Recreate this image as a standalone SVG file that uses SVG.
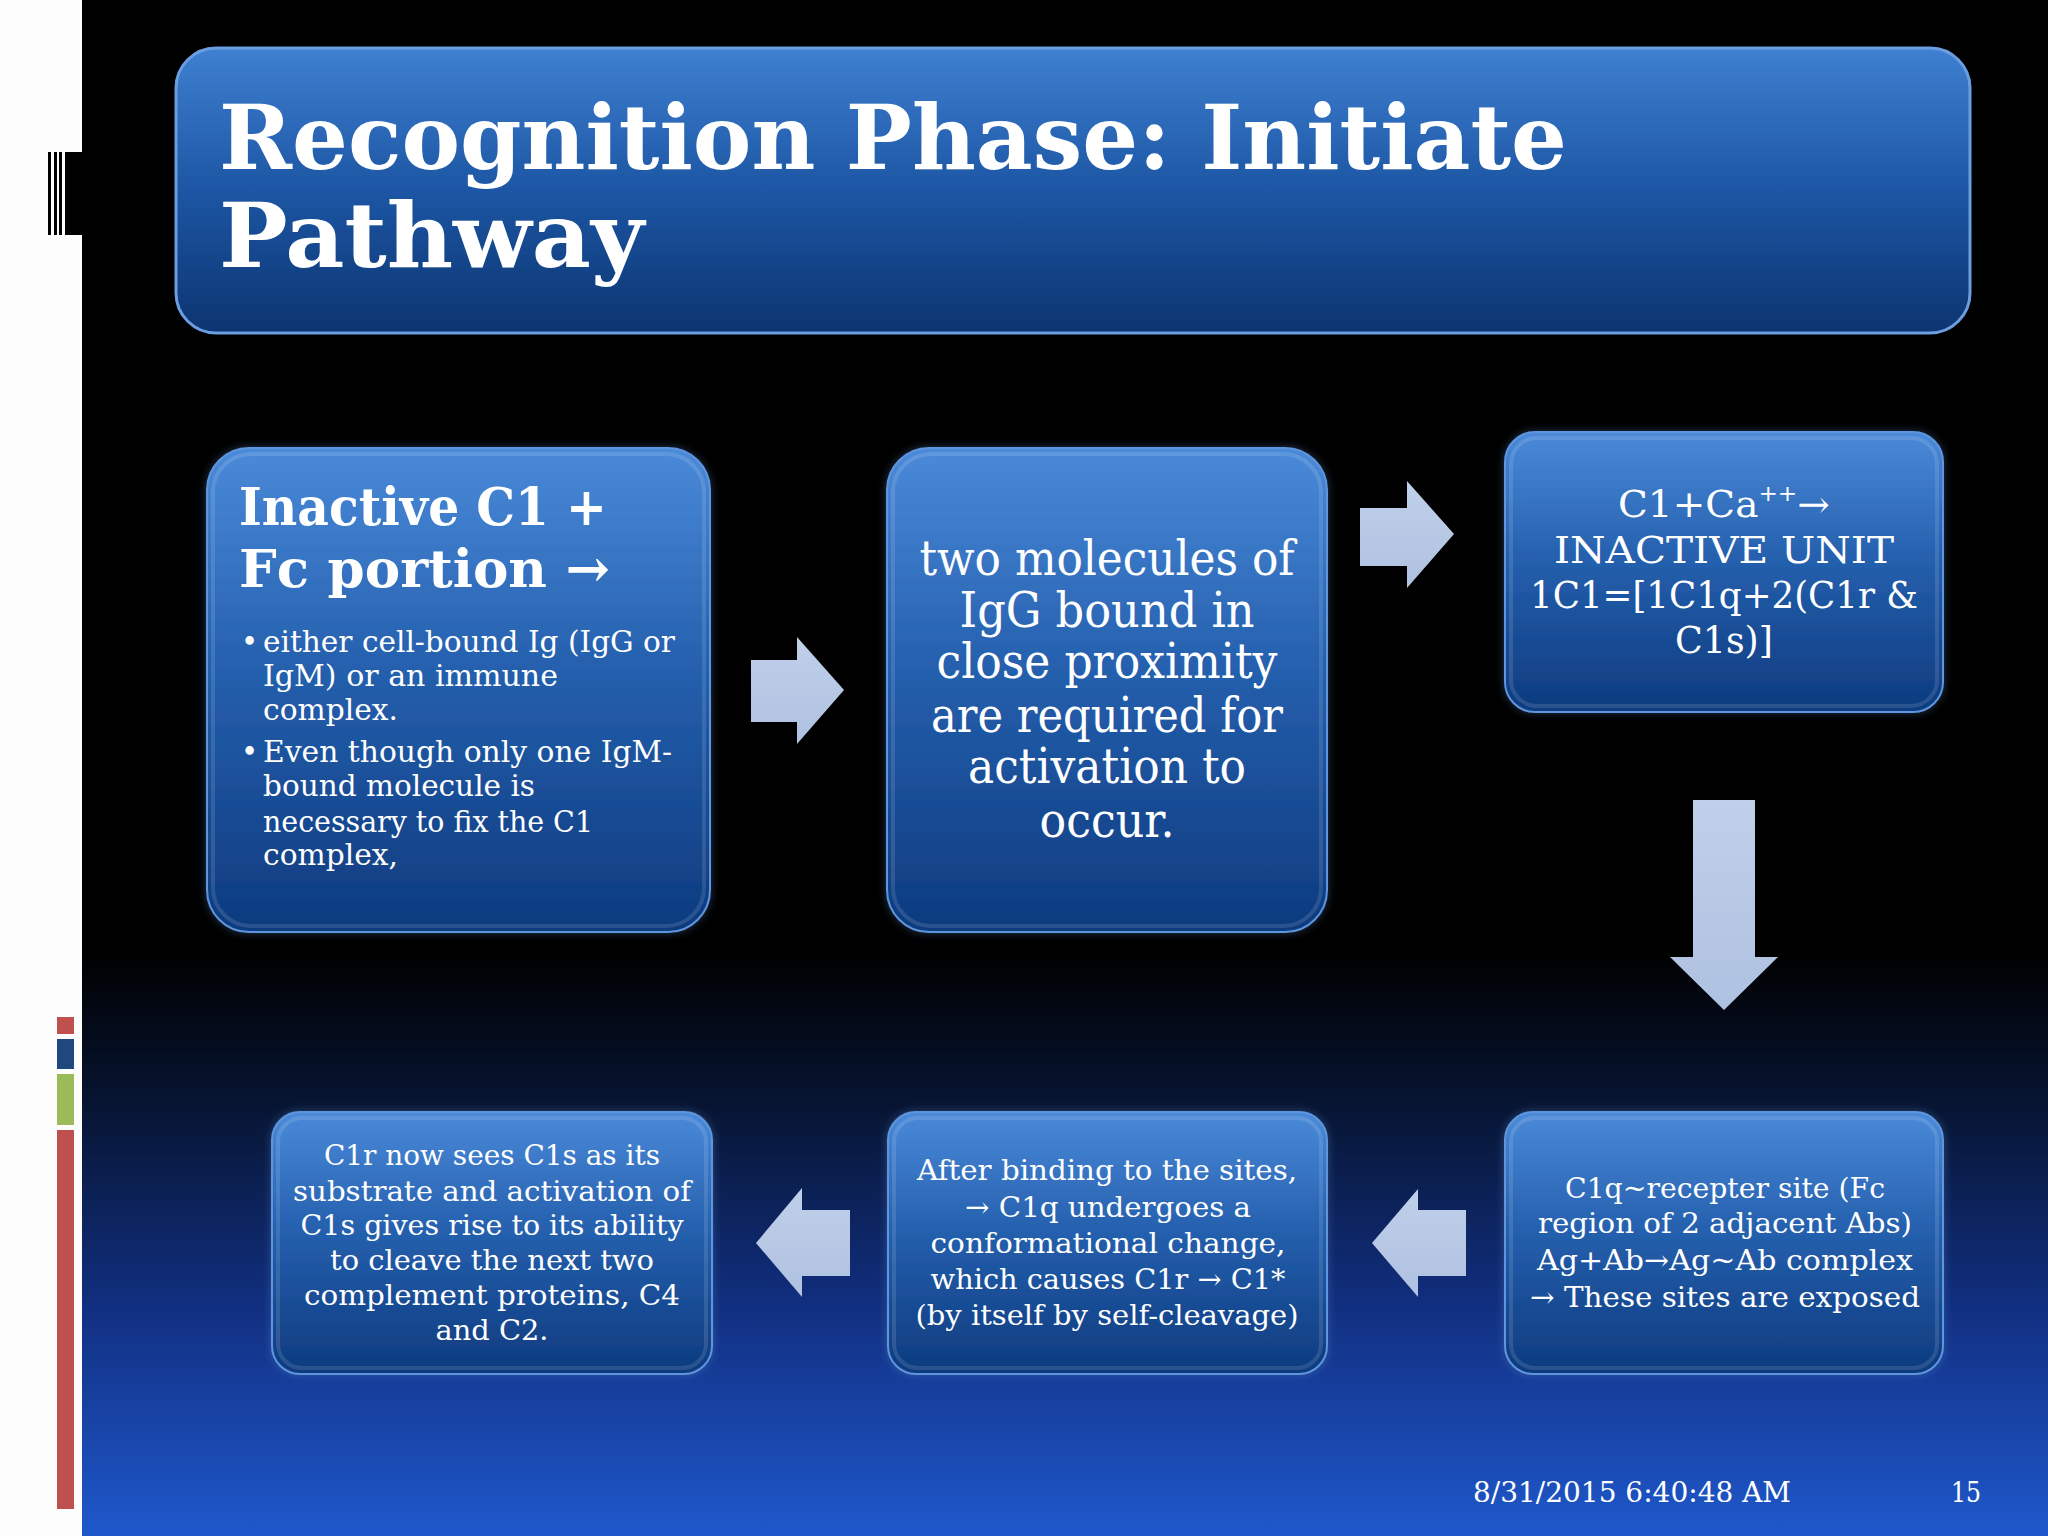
<svg xmlns="http://www.w3.org/2000/svg" width="2048" height="1536" viewBox="0 0 2048 1536">
  <defs>
    <linearGradient id="bg" x1="0" y1="0" x2="0" y2="1536" gradientUnits="userSpaceOnUse">
      <stop offset="0" stop-color="#000000"/>
      <stop offset="0.62" stop-color="#000000"/>
      <stop offset="0.72" stop-color="#071533"/>
      <stop offset="0.85" stop-color="#112f80"/>
      <stop offset="1" stop-color="#1f58cc"/>
    </linearGradient>
    <linearGradient id="boxg" x1="0" y1="0" x2="0" y2="1">
      <stop offset="0" stop-color="#4a8ad9"/>
      <stop offset="0.45" stop-color="#2560ae"/>
      <stop offset="1" stop-color="#0d3a7e"/>
    </linearGradient>
    <linearGradient id="titleg" x1="0" y1="0" x2="0" y2="1">
      <stop offset="0" stop-color="#3f80d0"/>
      <stop offset="0.5" stop-color="#1c56a4"/>
      <stop offset="1" stop-color="#0c3470"/>
    </linearGradient>
    <linearGradient id="arrg" x1="0" y1="0" x2="0" y2="1">
      <stop offset="0" stop-color="#c0d0ea"/>
      <stop offset="1" stop-color="#afc1e1"/>
    </linearGradient>
    <filter id="glow" x="-10%" y="-10%" width="120%" height="120%">
      <feGaussianBlur in="SourceAlpha" stdDeviation="4" result="b"/>
      <feFlood flood-color="#5a8ad0" flood-opacity="0.4"/>
      <feComposite in2="b" operator="in" result="g"/>
      <feMerge><feMergeNode in="g"/><feMergeNode in="SourceGraphic"/></feMerge>
    </filter>
  </defs>
  <style>
    .box { fill: url(#boxg); stroke: #5f95dc; stroke-width: 2; filter: url(#glow); }
    .rim { fill: none; stroke: #ffffff; stroke-opacity: 0.12; stroke-width: 4; }
    .txt { font-family: "DejaVu Serif", "Liberation Serif", serif; fill: #ffffff; }
    .c { text-anchor: middle; }
    .arr { fill: url(#arrg); }
  </style>

  <!-- background -->
  <rect x="0" y="0" width="2048" height="1536" fill="url(#bg)"/>
  <rect x="0" y="0" width="82" height="1536" fill="#fdfdfd"/>
  <g id="barcode" fill="#000000">
    <rect x="48" y="152" width="3" height="83"/>
    <rect x="54" y="152" width="3" height="83"/>
    <rect x="59" y="152" width="3" height="83"/>
    <rect x="65" y="152" width="17" height="83"/>
  </g>
  <g id="sidebars">
    <rect x="57" y="1017" width="17" height="17" fill="#c0504d"/>
    <rect x="57" y="1039" width="17" height="30" fill="#1f497d"/>
    <rect x="57" y="1074" width="17" height="51" fill="#9bbb59"/>
    <rect x="57" y="1130" width="17" height="379" fill="#c0504d"/>
  </g>

  <!-- title -->
  <g id="title">
    <rect x="176" y="48" width="1794" height="285" rx="40" fill="url(#titleg)" stroke="#6a9ee0" stroke-width="3"/>
    <text class="txt" x="219" y="169" font-size="89" font-weight="bold" textLength="1348" lengthAdjust="spacingAndGlyphs">Recognition Phase: Initiate</text>
    <text class="txt" x="219" y="267" font-size="89" font-weight="bold" textLength="425" lengthAdjust="spacingAndGlyphs">Pathway</text>
  </g>

  <!-- connectors -->
  <g id="connectors">
    <polygon class="arr" points="751,660 797,660 797,637 844,690 797,744 797,722 751,722"/>
    <polygon class="arr" points="1360,508 1407,508 1407,481 1454,534 1407,588 1407,566 1360,566"/>
    <polygon class="arr" points="1693,800 1755,800 1755,957 1778,957 1724,1010 1670,957 1693,957"/>
    <polygon class="arr" points="1466,1210 1418,1210 1418,1189 1372,1243 1418,1297 1418,1276 1466,1276"/>
    <polygon class="arr" points="850,1210 802,1210 802,1188 756,1243 802,1297 802,1276 850,1276"/>
  </g>

  <!-- node 1 -->
  <g id="node-inactive-c1">
    <rect class="box" x="207" y="448" width="503" height="484" rx="42"/>
    <rect class="rim" x="213" y="454" width="491" height="472" rx="38"/>
    <text class="txt" x="239" y="525" font-size="53" font-weight="bold" textLength="368" lengthAdjust="spacingAndGlyphs">Inactive C1 +</text>
    <text class="txt" x="239" y="587" font-size="53" font-weight="bold" textLength="371" lengthAdjust="spacingAndGlyphs">Fc portion →</text>
    <text class="txt" x="241" y="652" font-size="29">•</text>
    <text class="txt" x="263" y="652" font-size="29" textLength="412" lengthAdjust="spacingAndGlyphs">either cell-bound Ig (IgG or</text>
    <text class="txt" x="263" y="686" font-size="29" textLength="295" lengthAdjust="spacingAndGlyphs">IgM) or an immune</text>
    <text class="txt" x="263" y="720" font-size="29" textLength="135" lengthAdjust="spacingAndGlyphs">complex.</text>
    <text class="txt" x="241" y="762" font-size="29">•</text>
    <text class="txt" x="263" y="762" font-size="29" textLength="409" lengthAdjust="spacingAndGlyphs">Even though only one IgM-</text>
    <text class="txt" x="263" y="796" font-size="29" textLength="272" lengthAdjust="spacingAndGlyphs">bound molecule is</text>
    <text class="txt" x="263" y="832" font-size="29" textLength="330" lengthAdjust="spacingAndGlyphs">necessary to fix the C1</text>
    <text class="txt" x="263" y="865" font-size="29" textLength="135" lengthAdjust="spacingAndGlyphs">complex,</text>
  </g>

  <!-- node 2 -->
  <g id="node-two-molecules">
    <rect class="box" x="887" y="448" width="440" height="484" rx="42"/>
    <rect class="rim" x="893" y="454" width="428" height="472" rx="38"/>
    <text class="txt c" x="1107" y="575" font-size="48" textLength="375" lengthAdjust="spacingAndGlyphs">two molecules of</text>
    <text class="txt c" x="1107" y="627" font-size="48" textLength="295" lengthAdjust="spacingAndGlyphs">IgG bound in</text>
    <text class="txt c" x="1107" y="678" font-size="48" textLength="341" lengthAdjust="spacingAndGlyphs">close proximity</text>
    <text class="txt c" x="1107" y="732" font-size="48" textLength="352" lengthAdjust="spacingAndGlyphs">are required for</text>
    <text class="txt c" x="1107" y="783" font-size="48" textLength="278" lengthAdjust="spacingAndGlyphs">activation to</text>
    <text class="txt c" x="1107" y="837" font-size="48" textLength="135" lengthAdjust="spacingAndGlyphs">occur.</text>
  </g>

  <!-- node 3 -->
  <g id="node-inactive-unit">
    <rect class="box" x="1505" y="432" width="438" height="280" rx="30"/>
    <rect class="rim" x="1511" y="438" width="426" height="268" rx="26"/>
    <text class="txt c" x="1724" y="517" font-size="37" textLength="212" lengthAdjust="spacingAndGlyphs">C1+Ca<tspan font-size="22" dy="-16">++</tspan><tspan dy="16">→</tspan></text>
    <text class="txt c" x="1724" y="563" font-size="37" textLength="340" lengthAdjust="spacingAndGlyphs">INACTIVE UNIT</text>
    <text class="txt c" x="1724" y="608" font-size="37" textLength="388" lengthAdjust="spacingAndGlyphs">1C1=[1C1q+2(C1r &amp;</text>
    <text class="txt c" x="1724" y="653" font-size="37" textLength="98" lengthAdjust="spacingAndGlyphs">C1s)]</text>
  </g>

  <!-- node 4 -->
  <g id="node-recepter-site">
    <rect class="box" x="1505" y="1112" width="438" height="262" rx="28"/>
    <rect class="rim" x="1511" y="1118" width="426" height="250" rx="24"/>
    <text class="txt c" x="1725" y="1198" font-size="28" textLength="320" lengthAdjust="spacingAndGlyphs">C1q~recepter site (Fc</text>
    <text class="txt c" x="1725" y="1233" font-size="28" textLength="374" lengthAdjust="spacingAndGlyphs">region of 2 adjacent Abs)</text>
    <text class="txt c" x="1725" y="1270" font-size="28" textLength="376" lengthAdjust="spacingAndGlyphs">Ag+Ab→Ag~Ab complex</text>
    <text class="txt c" x="1725" y="1307" font-size="28" textLength="390" lengthAdjust="spacingAndGlyphs">→ These sites are exposed</text>
  </g>

  <!-- node 5 -->
  <g id="node-after-binding">
    <rect class="box" x="888" y="1112" width="439" height="262" rx="28"/>
    <rect class="rim" x="894" y="1118" width="427" height="250" rx="24"/>
    <text class="txt c" x="1107" y="1180" font-size="28" textLength="380" lengthAdjust="spacingAndGlyphs">After binding to the sites,</text>
    <text class="txt c" x="1108" y="1217" font-size="28" textLength="286" lengthAdjust="spacingAndGlyphs">→ C1q undergoes a</text>
    <text class="txt c" x="1108" y="1253" font-size="28" textLength="355" lengthAdjust="spacingAndGlyphs">conformational change,</text>
    <text class="txt c" x="1108" y="1289" font-size="28" textLength="355" lengthAdjust="spacingAndGlyphs">which causes C1r → C1*</text>
    <text class="txt c" x="1107" y="1325" font-size="28" textLength="383" lengthAdjust="spacingAndGlyphs">(by itself by self-cleavage)</text>
  </g>

  <!-- node 6 -->
  <g id="node-c1r-sees-c1s">
    <rect class="box" x="272" y="1112" width="440" height="262" rx="28"/>
    <rect class="rim" x="278" y="1118" width="428" height="250" rx="24"/>
    <text class="txt c" x="492" y="1165" font-size="28" textLength="336" lengthAdjust="spacingAndGlyphs">C1r now sees C1s as its</text>
    <text class="txt c" x="492" y="1201" font-size="28" textLength="398" lengthAdjust="spacingAndGlyphs">substrate and activation of</text>
    <text class="txt c" x="492" y="1235" font-size="28" textLength="383" lengthAdjust="spacingAndGlyphs">C1s gives rise to its ability</text>
    <text class="txt c" x="492" y="1270" font-size="28" textLength="324" lengthAdjust="spacingAndGlyphs">to cleave the next two</text>
    <text class="txt c" x="492" y="1305" font-size="28" textLength="376" lengthAdjust="spacingAndGlyphs">complement proteins, C4</text>
    <text class="txt c" x="492" y="1340" font-size="28" textLength="113" lengthAdjust="spacingAndGlyphs">and C2.</text>
  </g>

  <!-- footer -->
  <g id="footer">
    <text class="txt" x="1473" y="1502" font-size="27" fill="#eef2fb" textLength="318" lengthAdjust="spacingAndGlyphs">8/31/2015 6:40:48 AM</text>
    <text class="txt" x="1951" y="1502" font-size="27" fill="#eef2fb" textLength="30" lengthAdjust="spacingAndGlyphs">15</text>
  </g>
</svg>
